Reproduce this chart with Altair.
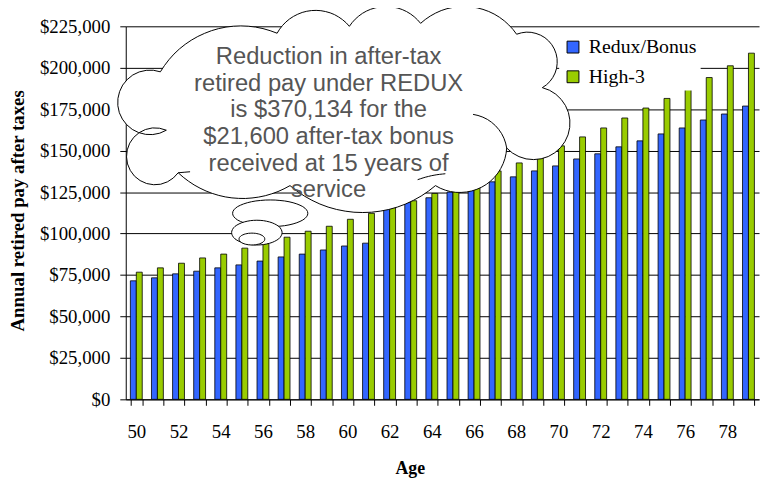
import math
import altair as alt
import pandas as pd

# ---------------- data ----------------
ages = list(range(50, 80))
series = ["Redux/Bonus", "High-3"]
colors = ["#3366FF", "#99CC00"]
redux = [71500, 73300, 75700, 77300, 79300, 81100, 83400, 85900, 87600, 90100,
         92500, 94200, 116200, 118800, 121600, 125000, 127600, 131200, 134200, 137800,
         140800, 145000, 148100, 152300, 155900, 160100, 163700, 168500, 172100, 176900]
high3 = [76700, 79300, 82100, 85300, 87600, 91200, 94000, 97800, 101400, 104400,
         108600, 112200, 116200, 119800, 124200, 128200, 132600, 137800, 142600, 147400,
         152900, 158300, 163700, 169700, 175700, 181500, 187500, 194100, 201200, 208800]
y_ticks = list(range(0, 225001, 25000))
note_lines = ["Reduction in after-tax", "retired pay under REDUX", "is $370,134 for the",
              "$21,600 after-tax bonus", "received at 15 years of", "service"]

rows = []
for i, a in enumerate(ages):
    rows.append({"age": a, "series": series[0], "pay": redux[i]})
    rows.append({"age": a, "series": series[1], "pay": high3[i]})
df = pd.DataFrame(rows)

# ---------------- callout cloud geometry (pixels, relative to plot origin) ----------------
OX, OY = 127, 24
cloud_lobes = [
    ((168, 129), (119, 104), (162, 70)),
    ((162, 70), (212, 29), (280, 31)),
    ((280, 31), (322, 8), (353, 24)),
    ((353, 24), (392, 4), (425, 21)),
    ((425, 21), (472, 4), (522, 32)),
    ((522, 32), (562, 52), (548, 86)),
    ((548, 86), (574, 110), (512, 147)),
    ((512, 147), (504, 171), (440, 185)),
    ((440, 185), (350, 211), (293, 185)),
    ((293, 185), (245, 198), (180, 172)),
    ((180, 172), (129, 147), (168, 129)),
]
cloud_inner = [
    ((478, 113), (503, 127), (512, 147)),
    ((422, 179), (436, 175), (450, 173)),
    ((180, 172), (186, 171.5), (192, 171)),
]
bubbles = [(273, 213, 38, 13.5), (259.5, 232.5, 25.5, 12.5), (254.5, 239, 13, 6)]


def circ3(p0, pm, p1):
    ax, ay = p0
    bx, by = pm
    cx, cy = p1
    d = 2 * (ax * (by - cy) + bx * (cy - ay) + cx * (ay - by))
    if abs(d) < 1e-9:
        return None
    ux = ((ax*ax + ay*ay) * (by - cy) + (bx*bx + by*by) * (cy - ay) + (cx*cx + cy*cy) * (ay - by)) / d
    uy = ((ax*ax + ay*ay) * (cx - bx) + (bx*bx + by*by) * (ax - cx) + (cx*cx + cy*cy) * (bx - ax)) / d
    return ux, uy, math.hypot(ax - ux, ay - uy)


def arc_points(p0, pm, p1, n=18):
    c = circ3(p0, pm, p1)
    if c is None:
        return [pm, p1]
    ux, uy, r = c
    tau = 2 * math.pi
    a0 = math.atan2(p0[1] - uy, p0[0] - ux)
    am = math.atan2(pm[1] - uy, pm[0] - ux)
    a1 = math.atan2(p1[1] - uy, p1[0] - ux)
    d1 = (a1 - a0) % tau
    dm = (am - a0) % tau
    delta = d1 if dm <= d1 else d1 - tau
    return [(ux + r * math.cos(a0 + delta * k / n), uy + r * math.sin(a0 + delta * k / n))
            for k in range(1, n + 1)]


def cloud_path():
    x0, y0 = cloud_lobes[0][0]
    parts = [f"M{x0 - OX:.1f},{y0 - OY:.1f}"]
    for p0, pm, p1 in cloud_lobes:
        for (x, y) in arc_points(p0, pm, p1):
            parts.append(f"L{x - OX:.1f},{y - OY:.1f}")
    parts.append("Z")
    return " ".join(parts)


def inner_path():
    parts = []
    for p0, pm, p1 in cloud_inner:
        parts.append(f"M{p0[0] - OX:.1f},{p0[1] - OY:.1f}")
        for (x, y) in arc_points(p0, pm, p1, n=10):
            parts.append(f"L{x - OX:.1f},{y - OY:.1f}")
    return " ".join(parts)


def ellipse_path(cx, cy, rx, ry, n=48):
    pts = [(cx + rx * math.cos(2 * math.pi * k / n), cy + ry * math.sin(2 * math.pi * k / n))
           for k in range(n)]
    s = [f"{'M' if i == 0 else 'L'}{x - OX:.1f},{y - OY:.1f}" for i, (x, y) in enumerate(pts)]
    return " ".join(s) + " Z"


SERIF = "Liberation Serif"

bars = alt.Chart(df).mark_bar(stroke="black", strokeWidth=0.8).encode(
    x=alt.X("age:O", scale=alt.Scale(paddingInner=0.4375, paddingOuter=0.21875),
            axis=alt.Axis(labelAngle=0, labelExpr="datum.value % 2 == 0 ? datum.label : ''",
                          tickBand="extent", tickSize=6, tickColor="black", domainColor="black",
                          labelFont=SERIF, labelFontSize=19, labelColor="black", labelPadding=18,
                          labelOverlap=False, grid=False,
                          title="Age", titleFont=SERIF, titleFontSize=18, titleFontWeight="bold",
                          titleColor="black", titleX=287, titleY=75, titleAlign="center",
                          titleBaseline="alphabetic")),
    xOffset=alt.XOffset("series:N", sort=series, scale=alt.Scale(paddingInner=0, paddingOuter=0)),
    y=alt.Y("pay:Q", scale=alt.Scale(domain=[0, 225000], nice=False),
            axis=alt.Axis(values=y_ticks, format="$,.0f", grid=True, gridColor="black",
                          gridWidth=1, gridOpacity=1, domainColor="black", tickColor="black",
                          tickSize=6, labelFont=SERIF, labelFontSize=19, labelColor="black",
                          labelPadding=10, title="Annual retired pay after taxes",
                          titleFont=SERIF, titleFontSize=19, titleFontWeight="bold",
                          titleColor="black", titleX=-109, titleY=186, titleAngle=270,
                          titleAlign="center", titleBaseline="middle", zindex=0)),
    color=alt.Color("series:N", sort=series, scale=alt.Scale(domain=series, range=colors),
                    legend=alt.Legend(title=None, orient="none", legendX=438, legendY=7,
                                      symbolType="square", symbolSize=144,
                                      symbolStrokeColor="black", symbolStrokeWidth=1,
                                      labelFont=SERIF, labelFontSize=20, labelColor="black",
                                      rowPadding=10, labelOffset=6, fillColor="white",
                                      padding=4, symbolOpacity=1)),
)

one = alt.Data(values=[{}])

cloud = alt.Chart(one).mark_point(shape=cloud_path(), size=4, filled=True, fill="white",
                                  stroke="black", strokeWidth=1, opacity=1).encode(
    x=alt.value(0), y=alt.value(0))

cloud_lines = alt.Chart(one).mark_point(shape=inner_path(), size=4, filled=False,
                                        stroke="black", strokeWidth=1, opacity=1).encode(
    x=alt.value(0), y=alt.value(0))

bubble_layers = [
    alt.Chart(one).mark_point(shape=ellipse_path(*b), size=4, filled=True, fill="white",
                              stroke="black", strokeWidth=1, opacity=1).encode(
        x=alt.value(0), y=alt.value(0))
    for b in bubbles
]

note = alt.Chart(one).mark_text(text=note_lines, font="Liberation Sans", fontSize=24,
                                color="#555555", lineHeight=27, align="center",
                                baseline="alphabetic").encode(
    x=alt.value(205), y=alt.value(38))

chart = alt.layer(bars, cloud, cloud_lines, *bubble_layers, note).properties(
    width=640, height=377,
    autosize=alt.AutoSizeParams(type="none"),
    padding={"left": 119, "top": 16, "right": 2, "bottom": 78},
    background="white",
).configure_view(stroke=None)

chart.save("out.html", embed_options={"renderer": "svg", "actions": False})
